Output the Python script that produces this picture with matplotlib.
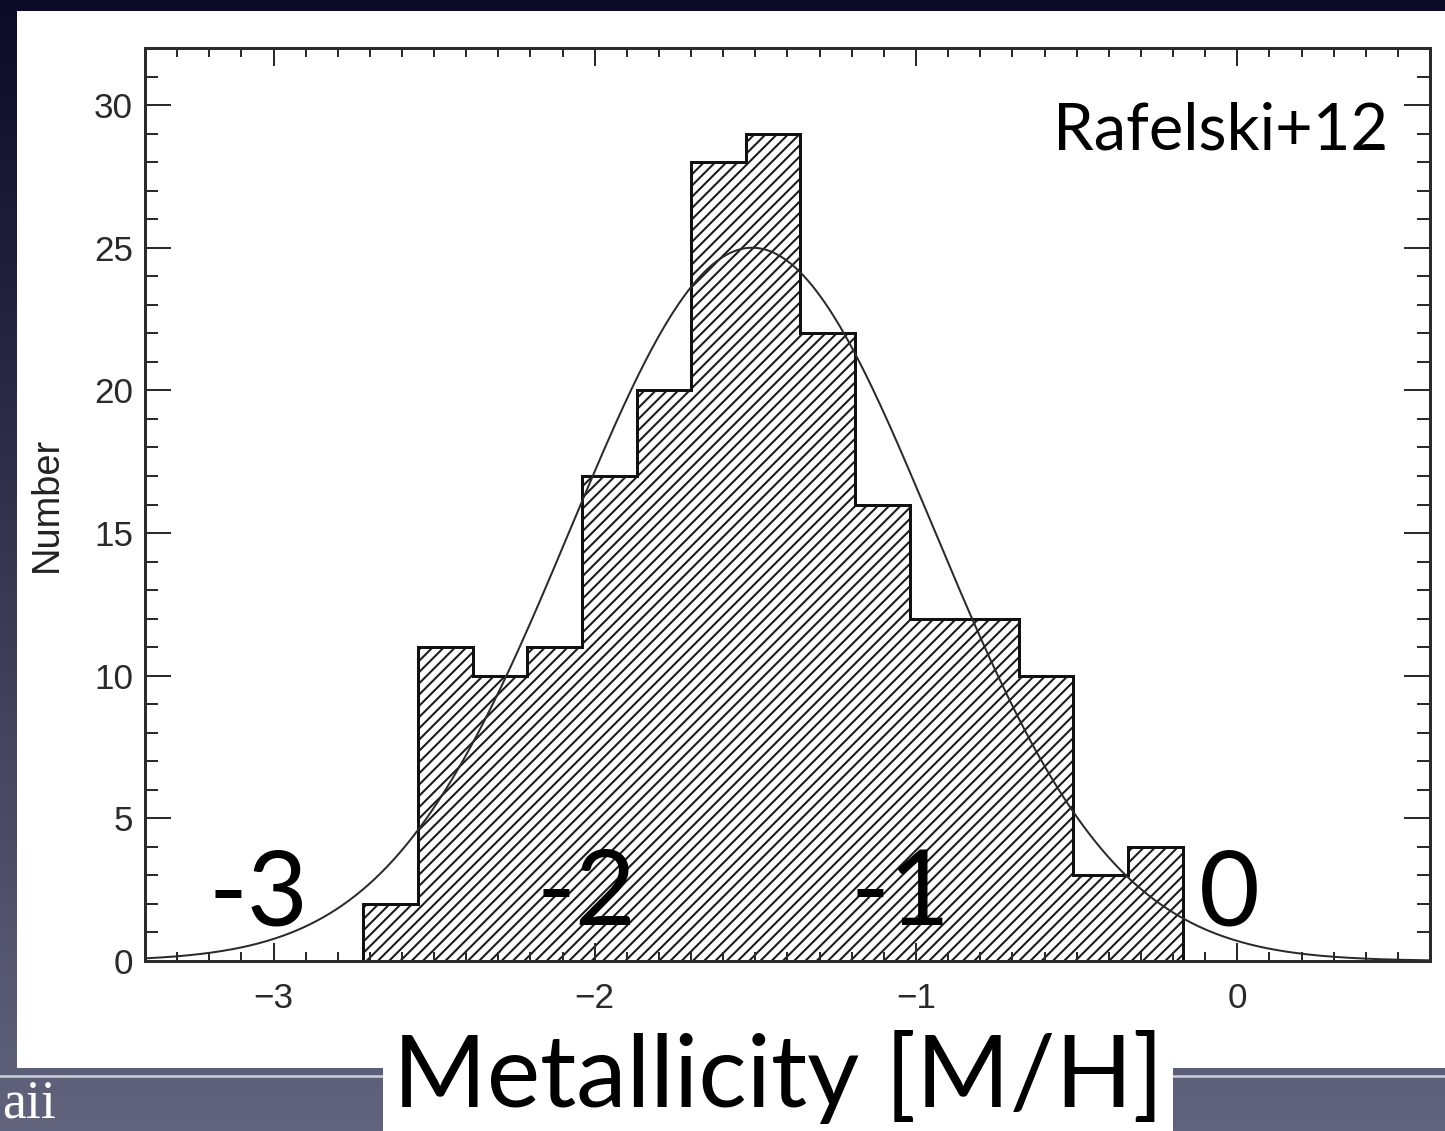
import numpy as np
import matplotlib
matplotlib.use("Agg")
import matplotlib.pyplot as plt
from matplotlib.patches import Rectangle
from matplotlib.ticker import MultipleLocator

# metallicity histogram (Rafelski+12 DLA sample)
bin_edges = [-2.72, -2.55, -2.38, -2.21, -2.04, -1.87, -1.70, -1.53,
             -1.36, -1.19, -1.02, -0.85, -0.68, -0.51, -0.34, -0.17]
counts = [2, 11, 10, 11, 17, 20, 28, 29, 22, 16, 12, 12, 10, 3, 4]

# gaussian fit overplotted on the histogram
fit_mean = -1.51
fit_sigma = 0.565
fit_peak = 25.0

y_ticks = [0, 5, 10, 15, 20, 25, 30]
x_ticks = [-3, -2, -1, 0]
x_tick_labels = ["\u22123", "\u22122", "\u22121", "0"]
big_labels = ["-3", "-2", "-1", "0"]

W, H, DPI = 1445, 1131, 135
PT = 72.0 / DPI  # pixels -> points

plt.rcParams["hatch.linewidth"] = 1.1
plt.rcParams["font.family"] = ["Liberation Sans", "DejaVu Sans"]

fig = plt.figure(figsize=(W / DPI, H / DPI), dpi=DPI)

# slide background, pixel coordinates
bg = fig.add_axes([0, 0, 1, 1], zorder=0)
bg.set_xlim(0, W)
bg.set_ylim(H, 0)
bg.axis("off")
grad = np.linspace(0, 1, 256)[:, None]
top_c = np.array([12, 10, 38]) / 255.0
bot_c = np.array([98, 99, 125]) / 255.0
img = top_c[None, None, :] * (1 - grad[:, :, None]) + bot_c[None, None, :] * grad[:, :, None]
bg.imshow(np.repeat(img, 4, axis=1), extent=[0, W, H, 0], aspect="auto", zorder=0)
bg.add_patch(Rectangle((17, 11), W - 17, 1057, facecolor="white", edgecolor="none", zorder=1))
bg.plot([0, 383], [1076, 1076], color="#cfcfdb", lw=2.5 * PT, zorder=2)
bg.plot([1173, W], [1076, 1076], color="#cfcfdb", lw=2.5 * PT, zorder=2)

# histogram panel
ax = fig.add_axes([145 / W, 1 - 961 / H, (1430 - 145) / W, (961 - 48) / H], zorder=2)
ax.set_facecolor("none")

ax.stairs(counts, bin_edges, baseline=0, fill=True, facecolor="none",
          edgecolor="#1c1c1c", hatch="////", linewidth=0)
ax.stairs(counts, bin_edges, baseline=0, fill=False, color="#111111",
          linewidth=3 * PT)

xs = np.linspace(-3.4, 0.6, 600)
ax.plot(xs, fit_peak * np.exp(-0.5 * ((xs - fit_mean) / fit_sigma) ** 2),
        color="#2a2a2a", linewidth=2 * PT)

ax.set_xlim(-3.4, 0.6)
ax.set_ylim(0, 32)
ax.set_xticks(x_ticks)
ax.set_xticklabels(x_tick_labels)
ax.set_yticks(y_ticks)
ax.xaxis.set_minor_locator(MultipleLocator(0.1))
ax.yaxis.set_minor_locator(MultipleLocator(1))

for s in ax.spines.values():
    s.set_linewidth(3 * PT)
    s.set_color("#2b2b2b")

ax.tick_params(which="both", direction="in", top=True, right=True,
               color="#2b2b2b", width=2 * PT, labelcolor="#2a2a2a",
               labelsize=35 * PT)
ax.tick_params(axis="x", which="major", length=18 * PT, pad=21 * PT)
ax.tick_params(axis="x", which="minor", length=9 * PT)
ax.tick_params(axis="y", which="major", length=26 * PT, pad=12 * PT)
ax.tick_params(axis="y", which="minor", length=13 * PT)

ax.set_ylabel("Number", fontsize=38 * PT, color="#222222")
ax.yaxis.set_label_coords((65 - 145) / (1430 - 145), 0.5)

# slide annotations on top, pixel coordinates
ov = fig.add_axes([0, 0, 1, 1], zorder=5)
ov.set_xlim(0, W)
ov.set_ylim(H, 0)
ov.axis("off")
ov.set_facecolor("none")

sans = ["Lato", "DejaVu Sans"]
ov.text(1388, 150, "Rafelski+12", ha="right", va="baseline",
        fontsize=65 * PT, family=sans, color="black")
for lab, px in zip(big_labels, [258, 586, 900, 1229]):
    ov.text(px, 925, lab, ha="center", va="baseline",
            fontsize=105 * PT, family=sans, color="black")

ov.add_patch(Rectangle((383, 1060), 790, H - 1060, facecolor="white",
                       edgecolor="none", zorder=1))
ov.text(778, 1107, "Metallicity [M/H]", ha="center", va="baseline",
        fontsize=101 * PT, family=sans, color="black", zorder=2)
ov.text(2, 1118, "aii", ha="left", va="baseline", fontsize=54 * PT,
        family=["Liberation Serif", "DejaVu Serif"], color="white")

fig.savefig("out.png", dpi=DPI)
